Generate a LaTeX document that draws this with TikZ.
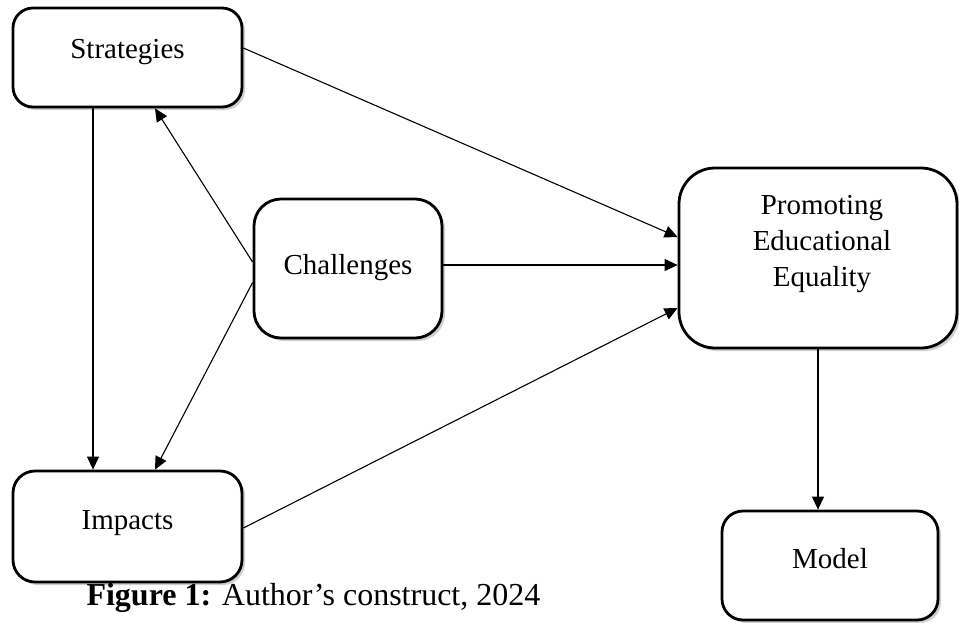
\documentclass[tikz,border=0pt]{standalone}
\usepackage{fontspec}
\setmainfont{Liberation Serif}
\usetikzlibrary{arrows.meta}
\usetikzlibrary{shadows}

\begin{document}
\begin{tikzpicture}[x=1pt,y=-1pt,
    box/.style={draw=black,line width=2.8pt,fill=white,
        drop shadow={shadow xshift=3pt,shadow yshift=-3pt,opacity=.3,fill=black!60}},
    lbl/.style={anchor=base,font=\fontsize{29}{36}\selectfont,align=center},
    arr/.style={line width=1.1pt,-{Triangle[length=13pt,width=12pt]}}]
    \useasboundingbox (0,0) rectangle (959,622);
    \fill[white] (0,0) rectangle (959,622);

    \node[box,rounded corners=20pt,minimum width=229pt,minimum height=99pt]
        (strat) at (127.5,57.5) {};
    \node[box,rounded corners=22pt,minimum width=229pt,minimum height=111pt]
        (impact) at (127.5,526.5) {};
    \node[box,rounded corners=27pt,minimum width=188pt,minimum height=139pt]
        (chall) at (348,268.5) {};
    \node[box,rounded corners=36pt,minimum width=278pt,minimum height=180pt]
        (promo) at (818,258) {};
    \node[box,rounded corners=21pt,minimum width=216pt,minimum height=109pt]
        (model) at (830,565.5) {};

    \node[lbl] (stratlbl) at (127.5,58) {Strategies};
    \node[lbl] (impactlbl) at (127.5,529) {Impacts};
    \node[lbl] (challlbl) at (348,274) {Challenges};
    \node[lbl,anchor=north] (promolbl) at (822,192) {Promoting\\Educational\\Equality};
    \node[lbl] (modellbl) at (830,568) {Model};

    \draw[arr] ([xshift=-34.5pt]strat.south) -- ([xshift=-34.5pt]impact.north);
    \draw[arr] ([yshift=6.5pt]chall.west) -- ([xshift=27.5pt]strat.south);
    \draw[arr] ([yshift=-14pt]chall.west) -- ([xshift=27.5pt]impact.north);
    \draw[arr] ([yshift=9.5pt]strat.east) -- ([yshift=21pt]promo.west);
    \draw[arr] ([yshift=3.5pt]chall.east) -- ([yshift=3.5pt]chall.east -| promo.west);
    \draw[arr] ([yshift=-1.5pt]impact.east) -- ([yshift=-50pt]promo.west);
    \draw[arr] (promo.south) -- (promo.south |- model.north);

    \node[anchor=base west,font=\fontsize{32}{38}\selectfont] (caption) at (83,605)
        {\textbf{Figure 1:} Author’s construct, 2024};
\end{tikzpicture}
\end{document}
